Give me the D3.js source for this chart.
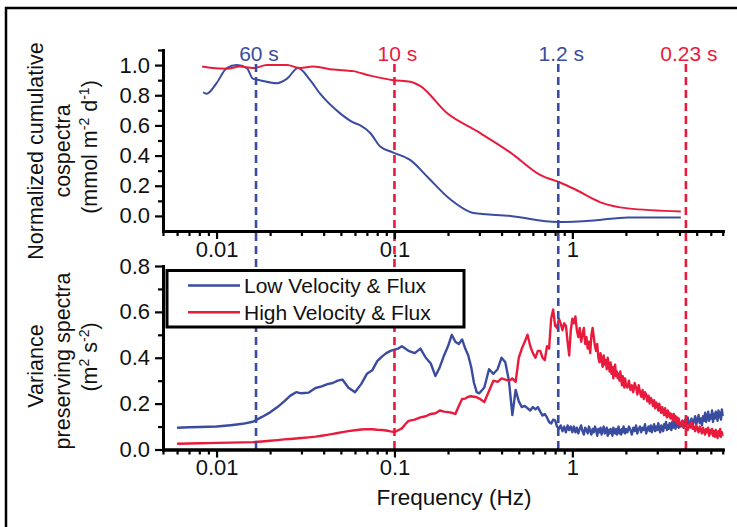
<!DOCTYPE html>
<html>
<head>
<meta charset="utf-8">
<script src="https://cdn.jsdelivr.net/npm/d3@7"></script>
<style>
body { margin: 0; background: #fff; }
text { font-family: "Liberation Sans", Arial, sans-serif; }
</style>
</head>
<body>
<div id="chart"></div>
<script>
// ---- data ----
// top panel: normalized cumulative cospectra
const cumFreqLow = [0.0084, 0.0088, 0.0100, 0.0114, 0.0130, 0.0148, 0.0160, 0.0175, 0.0219, 0.0249,
  0.0287, 0.0336, 0.0382, 0.0495, 0.0586, 0.0643, 0.0731, 0.0832, 0.0985, 0.123,
  0.153, 0.206, 0.278, 0.449, 0.827, 1.32, 2.05, 4.07]
const cumLow = [0.82, 0.81, 0.88, 0.98, 1.00, 0.98, 0.91, 0.90, 0.88, 0.91,
  0.98, 0.90, 0.81, 0.68, 0.62, 0.60, 0.55, 0.46, 0.42, 0.37,
  0.26, 0.11, 0.02, 0.00, -0.04, -0.03, -0.01, -0.01]
const cumFreqHigh = [0.0083, 0.0095, 0.0114, 0.0135, 0.0160, 0.0192, 0.0249, 0.0295, 0.0349, 0.0452,
  0.0586, 0.0731, 0.0985, 0.123, 0.140, 0.198, 0.293, 0.449, 0.663, 0.859,
  1.02, 1.44, 2.05, 4.07]
const cumHigh = [0.99, 0.98, 0.975, 0.99, 0.98, 1.00, 1.00, 0.98, 0.99, 0.97,
  0.96, 0.93, 0.90, 0.89, 0.86, 0.68, 0.56, 0.42, 0.27, 0.22,
  0.18, 0.09, 0.05, 0.03]

// bottom panel: variance preserving spectra
const varFreq = [0.006, 0.007, 0.008, 0.009, 0.010, 0.012, 0.014, 0.016, 0.018, 0.020,
  0.022, 0.024, 0.026, 0.028, 0.030, 0.033, 0.036, 0.039, 0.042, 0.045,
  0.048, 0.051, 0.055, 0.060, 0.065, 0.070, 0.075, 0.080, 0.085, 0.090,
  0.095, 0.100, 0.105, 0.110, 0.115, 0.120, 0.13, 0.14, 0.15, 0.16,
  0.17, 0.18, 0.19, 0.20, 0.21, 0.22, 0.23, 0.24, 0.25, 0.26,
  0.27, 0.28, 0.29, 0.30, 0.32, 0.34, 0.36, 0.38, 0.40, 0.42,
  0.44, 0.46, 0.48, 0.50, 0.52, 0.54, 0.56, 0.58, 0.60, 0.62,
  0.64, 0.66, 0.68, 0.70, 0.72, 0.74, 0.76, 0.78, 0.80, 0.82,
  0.84, 0.86, 0.88, 0.90, 0.92, 0.94, 0.96, 0.98, 1.00,
  1.02, 1.04, 1.06, 1.08, 1.10, 1.12, 1.14, 1.16, 1.18, 1.20,
  1.22, 1.24, 1.26, 1.28, 1.30, 1.32, 1.34, 1.36, 1.38, 1.40,
  1.42, 1.44, 1.46, 1.48, 1.50, 1.52, 1.54, 1.56, 1.58, 1.60,
  1.62, 1.64, 1.66, 1.68, 1.70, 1.72, 1.74, 1.76, 1.78, 1.80,
  1.82, 1.84, 1.86, 1.88, 1.90, 1.92, 1.94, 1.96, 1.98, 2.00,
  2.04, 2.08, 2.12, 2.16, 2.20, 2.24, 2.28, 2.32, 2.36, 2.40,
  2.44, 2.48, 2.52, 2.56, 2.60, 2.64, 2.68, 2.72, 2.76, 2.80,
  2.84, 2.88, 2.92, 2.96, 3.00, 3.04, 3.08, 3.12, 3.16, 3.20,
  3.24, 3.28, 3.32, 3.36, 3.40, 3.44, 3.48, 3.52, 3.56, 3.60,
  3.64, 3.68, 3.72, 3.76, 3.80, 3.84, 3.88, 3.92, 3.96, 4.00,
  4.075, 4.15, 4.225, 4.30, 4.375, 4.45, 4.525, 4.60, 4.675, 4.75,
  4.825, 4.90, 4.975, 5.05, 5.125, 5.20, 5.275, 5.35, 5.425, 5.50,
  5.575, 5.65, 5.725, 5.80, 5.875, 5.95, 6.025, 6.10, 6.175, 6.25,
  6.325, 6.40, 6.475, 6.55, 6.625, 6.70, 6.775, 6.85, 6.925, 7.00]
const varLow = [0.095, 0.097, 0.098, 0.099, 0.100, 0.106, 0.112, 0.121, 0.142, 0.162,
  0.185, 0.21, 0.235, 0.25, 0.245, 0.248, 0.268, 0.275, 0.285, 0.29,
  0.30, 0.305, 0.27, 0.25, 0.285, 0.33, 0.345, 0.385, 0.405, 0.42,
  0.43, 0.435, 0.44, 0.45, 0.44, 0.43, 0.42, 0.44, 0.40, 0.375,
  0.32, 0.36, 0.41, 0.45, 0.50, 0.47, 0.46, 0.48, 0.44, 0.41,
  0.36, 0.29, 0.25, 0.245, 0.27, 0.35, 0.33, 0.35, 0.40, 0.38,
  0.30, 0.15, 0.26, 0.21, 0.185, 0.19, 0.18, 0.17, 0.185, 0.175,
  0.185, 0.165, 0.148, 0.155, 0.14, 0.12, 0.113, 0.13, 0.127, 0.10,
  0.09, 0.105, 0.08, 0.10, 0.075, 0.105, 0.085, 0.10, 0.075,
  0.10, 0.075, 0.095, 0.07, 0.09, 0.105, 0.08, 0.065, 0.095, 0.085,
  0.07, 0.10, 0.08, 0.065, 0.09, 0.075, 0.10, 0.085, 0.06, 0.09,
  0.075, 0.095, 0.065, 0.085, 0.10, 0.07, 0.08, 0.095, 0.06, 0.085,
  0.07, 0.09, 0.075, 0.06, 0.095, 0.08, 0.07, 0.09, 0.065, 0.085,
  0.10, 0.07, 0.085, 0.065, 0.09, 0.075, 0.10, 0.08, 0.07, 0.09,
  0.075, 0.10, 0.085, 0.065, 0.095, 0.08, 0.105, 0.07, 0.09, 0.10,
  0.075, 0.095, 0.085, 0.11, 0.07, 0.09, 0.10, 0.08, 0.105, 0.075,
  0.095, 0.11, 0.08, 0.10, 0.085, 0.115, 0.09, 0.075, 0.105, 0.095,
  0.08, 0.11, 0.095, 0.12, 0.085, 0.105, 0.09, 0.115, 0.10, 0.085,
  0.12, 0.095, 0.11, 0.125, 0.09, 0.115, 0.10, 0.13, 0.095, 0.115,
  0.10, 0.125, 0.095, 0.13, 0.11, 0.14, 0.10, 0.12, 0.135, 0.105,
  0.125, 0.145, 0.11, 0.13, 0.15, 0.115, 0.135, 0.105, 0.145, 0.125,
  0.16, 0.12, 0.14, 0.165, 0.125, 0.15, 0.135, 0.17, 0.12, 0.155,
  0.135, 0.165, 0.145, 0.125, 0.17, 0.14, 0.16, 0.13, 0.175, 0.145]
const varHigh = [0.025, 0.026, 0.027, 0.028, 0.029, 0.030, 0.031, 0.032, 0.035, 0.038,
  0.041, 0.044, 0.046, 0.048, 0.050, 0.053, 0.056, 0.060, 0.064, 0.068,
  0.072, 0.076, 0.080, 0.084, 0.087, 0.089, 0.088, 0.086, 0.085, 0.083,
  0.079, 0.076, 0.084, 0.092, 0.110, 0.125, 0.130, 0.140, 0.145, 0.155,
  0.158, 0.170, 0.165, 0.163, 0.160, 0.155, 0.190, 0.220, 0.222, 0.230,
  0.232, 0.230, 0.228, 0.222, 0.207, 0.255, 0.30, 0.295, 0.31, 0.305,
  0.30, 0.31, 0.295, 0.40, 0.44, 0.47, 0.50, 0.45, 0.42, 0.40,
  0.43, 0.43, 0.40, 0.39, 0.45, 0.44, 0.57, 0.61, 0.54, 0.53,
  0.57, 0.55, 0.52, 0.55, 0.54, 0.47, 0.41, 0.52, 0.57,
  0.55, 0.58, 0.52, 0.49, 0.53, 0.47, 0.50, 0.53, 0.46, 0.49,
  0.44, 0.47, 0.42, 0.50, 0.53, 0.49, 0.45, 0.43, 0.46, 0.40,
  0.38, 0.42, 0.39, 0.36, 0.41, 0.37, 0.39, 0.35, 0.40, 0.37,
  0.34, 0.38, 0.33, 0.36, 0.31, 0.35, 0.37, 0.32, 0.34, 0.31,
  0.33, 0.30, 0.34, 0.31, 0.28, 0.32, 0.30, 0.27, 0.31, 0.28,
  0.27, 0.30, 0.26, 0.28, 0.25, 0.29, 0.27, 0.24, 0.28, 0.25,
  0.23, 0.26, 0.22, 0.25, 0.24, 0.21, 0.235, 0.20, 0.225, 0.215,
  0.19, 0.215, 0.18, 0.205, 0.195, 0.17, 0.20, 0.175, 0.16, 0.185,
  0.165, 0.15, 0.18, 0.155, 0.14, 0.17, 0.145, 0.16, 0.135, 0.155,
  0.14, 0.125, 0.155, 0.13, 0.145, 0.12, 0.14, 0.11, 0.135, 0.12,
  0.105, 0.125, 0.095, 0.115, 0.10, 0.085, 0.11, 0.095, 0.12, 0.09,
  0.10, 0.08, 0.105, 0.09, 0.075, 0.10, 0.085, 0.07, 0.095, 0.08,
  0.065, 0.09, 0.075, 0.095, 0.06, 0.085, 0.07, 0.09, 0.06, 0.08,
  0.055, 0.085, 0.065, 0.05, 0.08, 0.06, 0.09, 0.055, 0.075, 0.06]

// averaging periods marked with dashed lines (seconds)
const periods = [60, 10, 1.2, 0.23]
const periodLabels = ["60 s", "10 s", "1.2 s", "0.23 s"]
const periodSeries = ["low", "high", "low", "high"]

const seriesNames = ["Low Velocity & Flux", "High Velocity & Flux"]
const xMajorTicks = [0.01, 0.1, 1]
const xMinorTicks = [0.005, 0.006, 0.007, 0.008, 0.009, 0.02, 0.03, 0.04, 0.05, 0.06, 0.07, 0.08, 0.09,
  0.2, 0.3, 0.4, 0.5, 0.6, 0.7, 0.8, 0.9, 2, 3, 4, 5, 6, 7]
const topMajorTicks = [0.0, 0.2, 0.4, 0.6, 0.8, 1.0]
const topMinorTicks = [0.1, 0.3, 0.5, 0.7, 0.9, 1.1]
const botMajorTicks = [0.0, 0.2, 0.4, 0.6, 0.8]
const botMinorTicks = [0.1, 0.3, 0.5, 0.7]

// ---- styles ----
const col = { low: "#3a4c9f", high: "#e91b3d" }
const font_size = 21
const tick_font = 22
const axis_stroke = 3

const W = 737, H = 527
const svg = d3.select("#chart").append("svg")
  .attr("width", W)
  .attr("height", H)

// outer frame
svg.append("rect")
  .attr("x", 6).attr("y", 8)
  .attr("width", 745).attr("height", 540)
  .attr("fill", "none")
  .attr("stroke", "#000")
  .attr("stroke-width", 2.5)

const x = d3.scaleLog().domain([0.005, 7]).range([163, 722.7])
const yTop = d3.scaleLinear().domain([-0.1, 1.1]).range([231, 50])
const yBot = d3.scaleLinear().domain([0, 0.8]).range([449.5, 266])

function draw_line(xs, ys, yScale, color, width, curve){
  const pts = xs.map((f, i) => [f, ys[i]])
  const line = d3.line()
    .x(d => x(d[0]))
    .y(d => yScale(d[1]))
    .curve(curve)
  svg.append("path")
    .datum(pts)
    .attr("d", line)
    .attr("fill", "none")
    .attr("stroke", color)
    .attr("stroke-width", width)
    .attr("stroke-linejoin", "round")
}

// top curves
draw_line(cumFreqLow, cumLow, yTop, col.low, 2, d3.curveMonotoneX)
draw_line(cumFreqHigh, cumHigh, yTop, col.high, 2, d3.curveMonotoneX)

// bottom spectra
draw_line(varFreq, varLow, yBot, col.low, 2.4, d3.curveLinear)
draw_line(varFreq, varHigh, yBot, col.high, 2.4, d3.curveLinear)

// dashed period lines with labels
periods.forEach((p, i) => {
  const xp = x(1 / p)
  const c = col[periodSeries[i]]
  svg.append("line")
    .attr("x1", xp).attr("x2", xp)
    .attr("y1", 64).attr("y2", yBot(0))
    .attr("stroke", c)
    .attr("stroke-width", 2.6)
    .attr("stroke-dasharray", "8,5")
  svg.append("text")
    .attr("x", xp + 3)
    .attr("y", 61)
    .attr("text-anchor", "middle")
    .attr("font-size", font_size)
    .attr("fill", c)
    .text(periodLabels[i])
})

// legend
const lg = svg.append("g")
lg.append("rect")
  .attr("x", 167).attr("y", 270.5)
  .attr("width", 297).attr("height", 56.5)
  .attr("fill", "#fff")
  .attr("stroke", "#000")
  .attr("stroke-width", 3)
seriesNames.forEach((name, i) => {
  const yy = 285.5 + i * 26.8
  lg.append("line")
    .attr("x1", 188).attr("x2", 240)
    .attr("y1", yy).attr("y2", yy)
    .attr("stroke", i == 0 ? col.low : col.high)
    .attr("stroke-width", 2.5)
  lg.append("text")
    .attr("x", 244)
    .attr("y", yy + 7.5)
    .attr("font-size", font_size)
    .attr("fill", "#111")
    .text(name)
})

// axes
function style_axis(g){
  g.attr("font-size", tick_font)
    .attr("font-family", "Liberation Sans, Arial, sans-serif")
  g.select(".domain")
    .attr("stroke-width", axis_stroke)
    .attr("stroke-linecap", "square")
  g.selectAll(".tick line").attr("stroke-width", 2.2)
  g.selectAll(".tick text").attr("fill", "#111")
}

function draw_x_axis(yPos){
  svg.append("g")
    .attr("transform", `translate(0,${yPos})`)
    .call(d3.axisBottom(x).tickValues(xMinorTicks).tickSize(5).tickSizeOuter(0).tickFormat(""))
    .call(style_axis)
  svg.append("g")
    .attr("transform", `translate(0,${yPos})`)
    .call(d3.axisBottom(x).tickValues(xMajorTicks).tickSize(8).tickSizeOuter(0)
      .tickPadding(2).tickFormat(d3.format("~g")))
    .call(style_axis)
}

function draw_y_axis(yScale, major, minor){
  svg.append("g")
    .attr("transform", "translate(163,0)")
    .call(d3.axisLeft(yScale).tickValues(minor).tickSize(5).tickSizeOuter(0).tickFormat(""))
    .call(style_axis)
  svg.append("g")
    .attr("transform", "translate(163,0)")
    .call(d3.axisLeft(yScale).tickValues(major).tickSize(8).tickSizeOuter(0)
      .tickPadding(5).tickFormat(d3.format(".1f")))
    .call(style_axis)
}

draw_x_axis(yTop(-0.1))
draw_y_axis(yTop, topMajorTicks, topMinorTicks)
draw_x_axis(yBot(0))
draw_y_axis(yBot, botMajorTicks, botMinorTicks)

// axis titles
function rot_title(xPos, yPos, parts){
  const t = svg.append("text")
    .attr("transform", `translate(${xPos},${yPos}) rotate(-90)`)
    .attr("text-anchor", "middle")
    .attr("font-size", 21.5)
    .attr("fill", "#111")
  let shift = 0
  parts.forEach(p => {
    const sup = p[1]
    const dy = sup ? -8 - shift : -shift
    t.append("tspan")
      .attr("dy", dy)
      .attr("font-size", sup ? 14 : 21.5)
      .text(p[0])
    shift = sup ? -8 : 0
  })
}

rot_title(43, 151, [["Normalized cumulative", 0]])
rot_title(70, 151, [["cospectra", 0]])
rot_title(97, 147, [["(mmol m", 0], ["-2", 1], [" d", 0], ["-1", 1], [")", 0]])

rot_title(43, 366, [["Variance", 0]])
rot_title(70, 361, [["preserving spectra", 0]])
rot_title(97, 357, [["(m", 0], ["2", 1], [" s", 0], ["-2", 1], [")", 0]])

svg.append("text")
  .attr("x", 454)
  .attr("y", 505)
  .attr("text-anchor", "middle")
  .attr("font-size", 22.5)
  .attr("fill", "#111")
  .text("Frequency (Hz)")
</script>
</body>
</html>
